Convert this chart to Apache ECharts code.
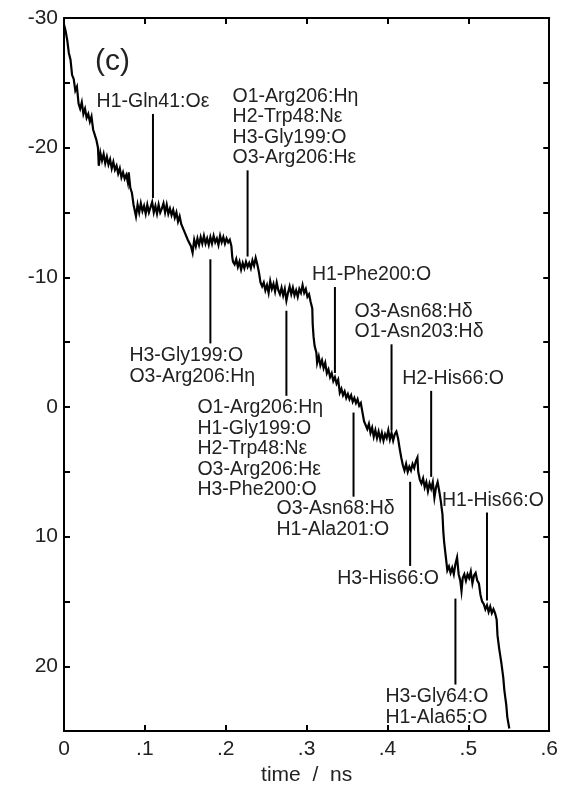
<!DOCTYPE html>
<html>
<head>
<meta charset="utf-8">
<script src="https://cdn.jsdelivr.net/npm/echarts@6/dist/echarts.min.js"></script>
<style>
html,body{margin:0;padding:0;background:#fff;}
#chart{width:561px;height:791px;}
</style>
</head>
<body>
<div id="chart"></div>
<script>
// ---- data: [time / ns, value] ----
const trajectory = [
[0,-29.5],[.002,-29.0],[.004,-28.3],[.006,-27.3],[.008,-26.8],[.010,-25.6],[.012,-25.3],[.014,-24.4],[.016,-24.7],[.018,-23.4],
[.020,-23.0],[.022,-23.5],[.024,-22.6],[.026,-23.0],[.028,-22.3],[.030,-22.6],[.032,-22.0],[.034,-22.4],[.036,-21.4],[.038,-21.5],
[.040,-20.6],[.042,-20.0],[.043,-18.6],[.045,-19.6],[.047,-19.0],[.049,-19.5],[.051,-18.8],[.053,-19.3],[.055,-18.7],[.057,-19.1],
[.059,-18.4],[.061,-18.9],[.063,-18.3],[.065,-18.6],[.067,-18.0],[.069,-18.4],[.071,-17.7],[.073,-18.1],[.075,-17.6],[.077,-17.9],
[.079,-17.3],[.080,-18.1],[.082,-16.9],[.084,-16.5],[.086,-15.6],[.088,-15.0],[.089,-14.7],
[.091,-15.6],[.093,-15.0],[.095,-15.7],[.097,-15.1],[.099,-15.5],[.101,-14.9],[.103,-15.6],[.105,-15.0],[.107,-15.4],[.109,-15.8],
[.111,-15.0],[.113,-15.5],[.115,-14.9],[.117,-15.6],[.119,-15.0],[.121,-15.3],[.123,-15.7],[.125,-15.0],[.127,-15.6],[.129,-14.9],
[.131,-15.3],[.133,-14.8],[.135,-15.2],[.137,-14.6],[.139,-15.0],[.141,-14.3],[.143,-14.7],[.145,-14.1],
[.147,-14.0],[.149,-13.5],[.151,-13.6],[.153,-12.9],[.155,-12.9],[.157,-12.4],[.159,-11.9],
[.161,-12.9],[.163,-12.4],[.165,-13.0],[.167,-12.5],[.169,-13.1],[.171,-12.6],[.173,-13.2],[.175,-12.6],[.177,-13.0],[.179,-12.5],
[.181,-13.1],[.183,-12.6],[.185,-13.2],[.187,-12.7],[.189,-13.0],[.191,-12.5],[.193,-13.2],[.195,-12.7],[.197,-13.1],[.199,-12.6],
[.201,-13.0],[.203,-12.7],[.205,-12.9],[.207,-12.4],[.208,-11.6],[.209,-11.2],
[.211,-11.0],[.213,-11.4],[.215,-10.8],[.217,-11.2],[.219,-10.6],[.221,-11.1],[.223,-10.7],[.225,-11.2],[.227,-10.8],[.229,-11.1],
[.231,-10.7],[.233,-11.3],[.235,-10.9],[.237,-11.5],[.239,-11.0],[.241,-10.4],[.243,-9.6],[.245,-9.3],
[.247,-9.6],[.249,-9.0],[.251,-9.4],[.253,-8.8],[.255,-9.7],[.257,-9.1],[.259,-9.5],[.261,-8.9],[.263,-9.6],[.265,-9.0],
[.267,-8.7],[.269,-9.2],[.271,-8.6],[.273,-9.1],[.275,-8.2],[.277,-8.8],[.279,-9.3],[.281,-8.7],[.283,-9.2],[.285,-8.6],
[.287,-9.0],[.289,-8.5],[.291,-9.1],[.293,-8.8],[.295,-9.4],[.297,-8.8],[.299,-9.1],[.301,-8.5],[.303,-8.7],[.305,-8.1],
[.307,-7.6],[.3075,-6.4],[.3086,-5.4],[.3099,-4.7],[.312,-4.2],[.313,-3.4],
[.315,-3.9],[.317,-3.2],[.319,-3.6],[.321,-3.0],[.323,-3.4],[.325,-2.6],[.327,-2.9],[.329,-2.3],[.331,-2.6],[.333,-2.0],
[.335,-2.3],[.337,-1.8],[.339,-2.1],[.341,-1.1],[.343,-1.4],[.345,-0.9],[.347,-1.2],[.349,-0.7],[.351,-1.0],[.353,-0.6],
[.355,-0.9],[.357,-0.4],[.359,-0.7],[.361,-0.3],[.363,-0.6],[.365,-0.1],[.367,-0.3],[.369,0.4],[.371,1.1],
[.373,1.0],[.375,1.7],[.377,1.3],[.379,2.0],[.381,1.6],[.383,2.3],[.385,1.8],[.387,2.4],[.389,1.9],[.391,2.5],
[.393,2.0],[.395,2.6],[.397,2.1],[.399,2.4],[.401,1.8],[.403,2.5],[.405,2.0],[.407,2.6],[.409,2.1],[.411,1.9],
[.413,2.4],[.415,3.2],[.417,3.9],
[.419,4.5],[.421,4.9],[.423,4.4],[.425,5.0],[.427,4.6],[.429,4.9],[.431,4.4],[.433,4.7],[.435,4.2],[.437,3.9],
[.438,5.0],[.440,5.6],[.442,5.9],
[.444,5.5],[.446,6.2],[.448,5.8],[.450,6.5],[.452,5.9],[.454,6.3],[.456,5.8],[.458,7.0],[.460,6.2],[.462,5.8],
[.464,6.5],[.466,7.3],[.468,8.3],[.469,9.6],[.470,10.4],[.472,11.5],[.474,12.6],
[.476,12.3],[.478,12.8],[.480,12.4],[.482,12.9],[.484,12.1],[.486,11.6],[.488,12.9],[.490,13.4],[.4915,14.2],[.493,13.2],
[.495,12.9],[.497,13.4],[.499,12.9],[.501,13.2],[.503,12.7],[.505,13.6],[.507,13.0],[.509,12.8],[.511,13.4],[.513,13.6],
[.515,14.5],[.517,15.0],
[.519,15.2],[.521,15.6],[.523,15.3],[.525,15.8],[.527,15.4],[.529,15.9],[.531,15.6],[.533,15.9],[.535,16.4],[.536,17.6],
[.538,18.6],[.5407,19.7],[.5432,20.9],[.5444,21.8],[.5469,23.0],[.5481,23.9],[.5506,24.8]
];

// annotation markers: time of the marker line, end next to the label, end next to the curve
const annotTime     = [0.110, 0.227, 0.335, 0.405, 0.454, 0.523, 0.181, 0.275, 0.358, 0.428, 0.484];
const annotLabelEnd = [-22.6, -18.25, -9.25, -4.83, -1.24, 8.14, -4.90, -0.86, 6.92, 12.26, 21.41];
const annotCurveEnd = [-16.12, -11.6, -2.62, 1.81, 5.39, 14.93, -11.39, -7.42, 0.43, 5.77, 14.78];
const annotText = [
  'H1-Gln41:Oε',
  'O1-Arg206:Hη\nH2-Trp48:Nε\nH3-Gly199:O\nO3-Arg206:Hε',
  'H1-Phe200:O',
  'O3-Asn68:Hδ\nO1-Asn203:Hδ',
  'H2-His66:O',
  'H1-His66:O',
  'H3-Gly199:O\nO3-Arg206:Hη',
  'O1-Arg206:Hη\nH1-Gly199:O\nH2-Trp48:Nε\nO3-Arg206:Hε\nH3-Phe200:O',
  'O3-Asn68:Hδ\nH1-Ala201:O',
  'H3-His66:O',
  'H3-Gly64:O\nH1-Ala65:O'
];
const yTickLabels = [-30, -20, -10, 0, 10, 20];

// ---- layout of annotation labels (pixel offsets, not data) ----
const labelLayout = [
  {dx: 0,   align: 'center', side: 'above'},
  {dx: -15, align: 'left',   side: 'above'},
  {dx: -23, align: 'left',   side: 'above'},
  {dx: -37, align: 'left',   side: 'above'},
  {dx: -29, align: 'left',   side: 'above'},
  {dx: -45, align: 'left',   side: 'above'},
  {dx: -81, align: 'left',   side: 'below'},
  {dx: -89, align: 'left',   side: 'below'},
  {dx: -77, align: 'left',   side: 'below'},
  {dx: -73, align: 'left',   side: 'below'},
  {dx: -70, align: 'left',   side: 'below'}
];

const FONT = '"Liberation Sans", Arial, sans-serif';
const TXT = '#222';

const chart = echarts.init(document.getElementById('chart'), null, {renderer: 'canvas'});

const annotData = annotTime.map((t, i) => [t, annotLabelEnd[i], annotCurveEnd[i], i]);

const axisLineStyle = {onZero: false, lineStyle: {color: '#000', width: 2}};
const tickStyle = {inside: true, length: 6, lineStyle: {color: '#000', width: 2}};
const xFmt = v => {
  const k = Math.round(v * 10);
  return k === 0 ? '0' : '.' + k;
};
const yFmt = v => (yTickLabels.indexOf(v) >= 0 ? String(v) : '');

chart.setOption({
  animation: false,
  backgroundColor: '#fff',
  title: {
    text: '(c)', left: 90, top: 42,
    textStyle: {fontFamily: FONT, fontSize: 30, fontWeight: 'normal', color: TXT}
  },
  grid: {left: 64, right: 10, top: 18, bottom: 52},
  xAxis: [{
    type: 'value', min: 0, max: 0.6, interval: 0.1, position: 'bottom',
    name: 'time  /  ns', nameLocation: 'middle', nameGap: 30,
    nameTextStyle: {fontFamily: FONT, fontSize: 21, color: TXT},
    axisLine: axisLineStyle,
    axisTick: tickStyle,
    axisLabel: {formatter: xFmt, fontFamily: FONT, fontSize: 21, color: TXT, margin: 8},
    splitLine: {show: false}
  }, {
    type: 'value', min: 0, max: 0.6, interval: 0.1, position: 'top',
    axisLine: axisLineStyle,
    axisTick: tickStyle,
    axisLabel: {show: false},
    splitLine: {show: false}
  }],
  yAxis: [{
    type: 'value', min: -30, max: 25, interval: 5, inverse: true, position: 'left',
    axisLine: axisLineStyle,
    axisTick: tickStyle,
    axisLabel: {formatter: yFmt, fontFamily: FONT, fontSize: 21, color: TXT, margin: 6, showMaxLabel: false},
    splitLine: {show: false}
  }, {
    type: 'value', min: -30, max: 25, interval: 5, inverse: true, position: 'right',
    axisLine: axisLineStyle,
    axisTick: tickStyle,
    axisLabel: {show: false},
    splitLine: {show: false}
  }],
  series: [{
    type: 'line',
    xAxisIndex: 0, yAxisIndex: 0,
    data: trajectory,
    showSymbol: false,
    symbol: 'none',
    lineStyle: {color: '#000', width: 2.2, join: 'miter'},
    z: 3
  }, {
    type: 'custom',
    xAxisIndex: 0, yAxisIndex: 0,
    data: annotData,
    renderItem: function (params, api) {
      const i = api.value(3);
      const p1 = api.coord([api.value(0), api.value(1)]);
      const p2 = api.coord([api.value(0), api.value(2)]);
      const lay = labelLayout[i];
      const above = lay.side === 'above';
      return {
        type: 'group',
        children: [{
          type: 'line',
          shape: {x1: p1[0], y1: p1[1], x2: p2[0], y2: p2[1]},
          style: {stroke: '#000', lineWidth: 2}
        }, {
          type: 'text',
          x: p1[0] + lay.dx,
          y: above ? p1[1] - 2 : p1[1] + 2,
          style: {
            text: annotText[i],
            fill: TXT,
            font: '19.5px ' + FONT,
            lineHeight: 20.5,
            align: lay.align,
            verticalAlign: above ? 'bottom' : 'top'
          }
        }]
      };
    },
    z: 4
  }]
});
</script>
</body>
</html>
